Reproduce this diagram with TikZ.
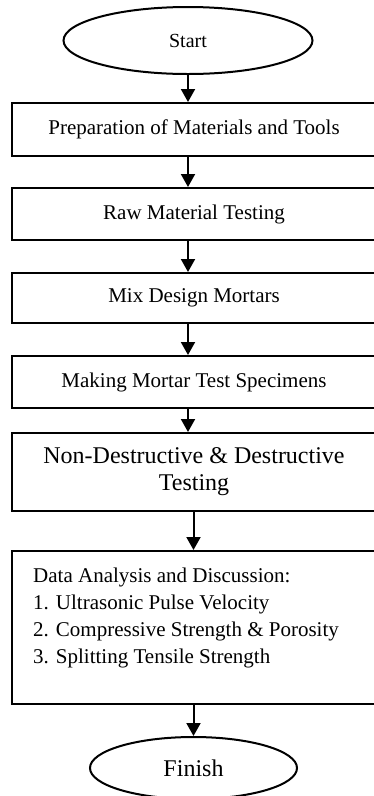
\documentclass[tikz,border=0pt]{standalone}
\usepackage{fontspec}
\setmainfont{Liberation Serif}
\usepackage{tikz}
\usetikzlibrary{shapes.geometric, arrows.meta}

\tikzset{
    stepbox/.style={draw, line width=2pt, rectangle, inner sep=0pt, minimum width=364pt, align=center, font=\fontsize{21}{27}\selectfont},
    termbox/.style={draw, line width=2pt, ellipse, inner sep=0pt},
    arr/.style={line width=2pt, -{Triangle[width=14pt, length=13pt]}}
}

\begin{document}
\begin{tikzpicture}[x=1pt, y=-1pt]
            \clip (0,0) rectangle (374,796);
            \node[termbox, minimum width=249pt, minimum height=67pt, font=\fontsize{20}{24}\selectfont] (start) at (188,40.5) {Start};
            \node[stepbox, minimum height=53pt] (prep) at (194,129.5) {Preparation of Materials and Tools};
            \node[stepbox, minimum height=52pt] (raw) at (194,214) {Raw Material Testing};
            \node[stepbox, minimum height=50pt] (mix) at (194,298) {Mix Design Mortars};
            \node[stepbox, minimum height=52pt] (spec) at (194,382) {Making Mortar Test Specimens};
            \node[stepbox, minimum height=78pt, font=\fontsize{24}{27}\selectfont] (test) at (194,472) {Non-Destructive \& Destructive\\Testing};
            \node[stepbox, minimum height=153pt] (data) at (194,627.5) {};
            \node[anchor=north west, inner sep=0pt, align=left, font=\fontsize{21}{27}\selectfont] (list) at (33,568) {Data Analysis and Discussion:\\1. Ultrasonic Pulse Velocity\\2. Compressive Strength \& Porosity\\3. Splitting Tensile Strength};
            \node[termbox, minimum width=207pt, minimum height=62pt, font=\fontsize{24}{28}\selectfont] (finish) at (193.5,768) {Finish};
            \draw[arr] (start.south) -- (start.south |- prep.north);
            \draw[arr] (prep.south -| start) -- (raw.north -| start);
            \draw[arr] (raw.south -| start) -- (mix.north -| start);
            \draw[arr] (mix.south -| start) -- (spec.north -| start);
            \draw[arr] (spec.south -| start) -- (test.north -| start);
            \draw[arr] (test.south -| finish) -- (data.north -| finish);
            \draw[arr] (data.south -| finish) -- (finish.north);
\end{tikzpicture}
\end{document}
